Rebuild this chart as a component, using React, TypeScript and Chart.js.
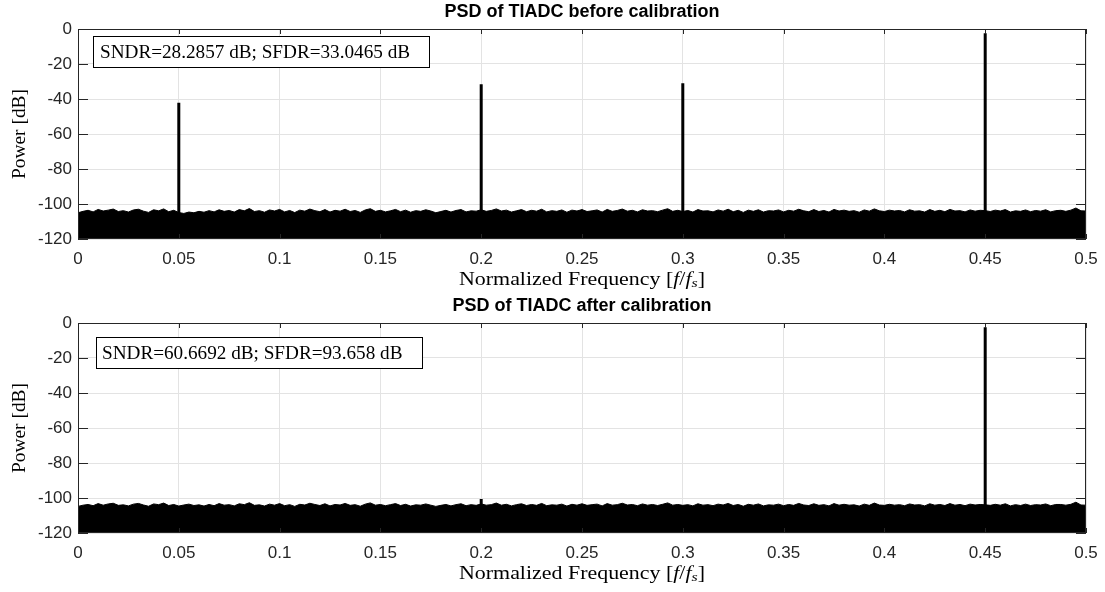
import React, { useEffect, useRef } from "react";
import { Chart, registerables } from "chart.js";

Chart.register(...registerables);

// ---------------- data ----------------
const FREQ_STEP = 0.0025; // sampling step of the noise-floor envelope (normalized frequency)

// Noise-floor upper envelope (dB), 0 .. 0.5
const noiseBefore = [
  -105.0, -104.2, -103.6, -104.5, -103.1, -104.0, -103.5, -102.9, -104.3, -103.8, -104.6, -103.4, -103.0, -104.1, -104.8, -103.3, -103.9, -102.8, -104.4, -103.6,
  -104.9, -105.4, -104.6, -105.0, -104.2, -104.7, -103.8, -104.5, -103.3, -104.2, -103.7, -104.6, -103.2, -103.9, -102.6, -104.3, -103.8, -104.7, -103.4, -104.0,
  -103.1, -104.5, -103.7, -104.9, -103.5, -104.1, -102.9, -103.8, -104.4, -103.2, -104.6, -103.6, -104.1, -103.0, -104.3, -103.7, -104.8, -103.4, -102.7, -104.2,
  -103.6, -104.5, -103.9, -103.1, -104.4, -103.5, -104.7, -103.8, -104.2, -103.3, -104.0, -105.0, -104.3, -103.6, -104.6, -103.7, -103.2, -104.5, -103.9, -104.1,
  -103.3, -104.2, -103.7, -102.8, -104.0, -103.5, -104.6, -103.9, -103.2, -104.4, -103.6, -104.1, -103.0, -104.5, -103.8, -104.2, -103.4, -104.7, -103.5, -104.0,
  -103.2, -104.3, -103.9, -103.4, -104.6, -103.1, -104.2, -103.7, -102.9, -104.1, -103.6, -104.5, -103.3, -104.0, -103.8, -104.4, -103.5, -102.7, -104.2, -103.6,
  -104.3, -103.7, -104.6, -103.2, -104.0, -103.9, -104.5, -103.4, -104.1, -103.0, -104.4, -103.6, -104.8, -103.5, -104.2, -103.3, -104.6, -103.8, -104.0, -103.4,
  -104.5, -103.6, -104.1, -103.0, -103.9, -104.4, -103.2, -104.3, -103.7, -104.6, -103.1, -104.0, -103.5, -104.2, -103.8, -104.7, -103.4, -104.1, -102.8, -103.9,
  -104.3, -103.5, -104.0, -103.7, -104.5, -103.3, -104.1, -103.9, -104.6, -103.2, -104.2, -103.6, -104.4, -103.1, -104.0, -103.8, -104.5, -103.4, -104.1, -103.6,
  -103.8, -104.3, -103.5, -104.0, -103.2, -104.6, -103.9, -104.2, -103.4, -104.4, -103.7, -104.1, -103.3, -104.5, -103.8, -103.6, -104.2, -103.5, -102.3, -103.9,
  -104.0,
];

const noiseAfter = [
  -104.8, -104.1, -103.7, -104.4, -103.2, -104.1, -103.4, -103.0, -104.2, -103.9, -104.5, -103.5, -103.1, -104.0, -104.7, -103.4, -103.8, -102.9, -104.3, -103.7,
  -104.6, -104.0, -103.5, -104.3, -103.9, -104.6, -103.7, -104.4, -103.2, -104.1, -103.8, -104.5, -103.3, -103.8, -102.7, -104.2, -103.9, -104.6, -103.5, -104.1,
  -103.2, -104.4, -103.8, -104.8, -103.6, -104.0, -103.0, -103.7, -104.3, -103.3, -104.5, -103.7, -104.0, -103.1, -104.2, -103.8, -104.7, -103.5, -102.8, -104.1,
  -103.7, -104.4, -103.8, -103.2, -104.3, -103.6, -104.6, -103.9, -104.1, -103.4, -104.1, -104.8, -104.2, -103.7, -104.5, -103.8, -103.3, -104.4, -103.8, -104.2,
  -103.4, -104.1, -103.8, -102.9, -104.1, -103.6, -104.5, -103.8, -103.3, -104.3, -103.7, -104.2, -103.1, -104.4, -103.9, -104.1, -103.5, -104.6, -103.6, -104.1,
  -103.3, -104.2, -103.8, -103.5, -104.5, -103.2, -104.1, -103.8, -103.0, -104.0, -103.7, -104.4, -103.4, -104.1, -103.7, -104.3, -103.6, -102.8, -104.1, -103.7,
  -104.2, -103.8, -104.5, -103.3, -104.1, -103.8, -104.4, -103.5, -104.0, -103.1, -104.3, -103.7, -104.7, -103.6, -104.1, -103.4, -104.5, -103.9, -104.1, -103.5,
  -104.4, -103.7, -104.2, -103.1, -104.0, -104.3, -103.3, -104.2, -103.8, -104.5, -103.2, -104.1, -103.6, -104.1, -103.9, -104.6, -103.5, -104.2, -102.9, -104.0,
  -104.2, -103.6, -104.1, -103.8, -104.4, -103.4, -104.0, -103.8, -104.5, -103.3, -104.1, -103.7, -104.3, -103.2, -104.1, -103.7, -104.4, -103.5, -104.0, -103.7,
  -103.9, -104.2, -103.6, -104.1, -103.3, -104.5, -103.8, -104.3, -103.5, -104.3, -103.8, -104.0, -103.4, -104.4, -103.7, -103.7, -104.1, -103.6, -102.4, -104.0,
  -104.1,
];

// Spectral lines (tones / spurs)
const spikeFreqsBefore = [0.05, 0.2, 0.3, 0.45];
const spikeLevelsBefore = [-42.1, -31.5, -31.0, -2.4];
const spikeFreqsAfter = [0.2, 0.45];
const spikeLevelsAfter = [-100.6, -2.4];

const xTicks = [0, 0.05, 0.1, 0.15, 0.2, 0.25, 0.3, 0.35, 0.4, 0.45, 0.5];
const yTicks = [-120, -100, -80, -60, -40, -20, 0];

const titleBefore = "PSD of TIADC before calibration";
const titleAfter = "PSD of TIADC after calibration";
const noteBefore = "SNDR=28.2857 dB; SFDR=33.0465 dB";
const noteAfter = "SNDR=60.6692 dB; SFDR=93.658 dB";
const yTitle = "Power [dB]";

// ---------------- styling ----------------
const SANS = '"Liberation Sans", Arial, Helvetica, sans-serif';
const SERIF = '"Liberation Serif", "Times New Roman", serif';
const AXIS = "#262626";
const GRID = "#e3e3e3";
const W = 1105;
const H = 294;

type Panel = {
  title: string;
  note: string;
  noise: number[];
  spikeFreqs: number[];
  spikeLevels: number[];
  box: { x: number; y: number; w: number; h: number; pad: number };
};

const panels: Panel[] = [
  {
    title: titleBefore,
    note: noteBefore,
    noise: noiseBefore,
    spikeFreqs: spikeFreqsBefore,
    spikeLevels: spikeLevelsBefore,
    box: { x: 93, y: 36, w: 336, h: 31, pad: 7 },
  },
  {
    title: titleAfter,
    note: noteAfter,
    noise: noiseAfter,
    spikeFreqs: spikeFreqsAfter,
    spikeLevels: spikeLevelsAfter,
    box: { x: 96, y: 43, w: 326, h: 31, pad: 6 },
  },
];

function fitText(ctx: any, text: string, x: number, y: number, target: number) {
  const w = ctx.measureText(text).width;
  ctx.save();
  ctx.translate(x, y);
  ctx.scale(target / w, 1);
  ctx.fillText(text, 0, 0);
  ctx.restore();
}

const decorPlugin = {
  id: "decor",
  afterDraw(chart: any, _args: any, opts: any) {
    const { ctx, chartArea: a } = chart;
    const xs = chart.scales.x;
    const ys = chart.scales.y;
    ctx.save();

    // axes box
    ctx.strokeStyle = AXIS;
    ctx.lineWidth = 1;
    ctx.strokeRect(a.left + 0.5, a.top + 0.5, a.right - a.left - 1, a.bottom - a.top - 1);

    // inward ticks
    ctx.beginPath();
    xTicks.forEach((v) => {
      const px = Math.round(xs.getPixelForValue(v)) + 0.5;
      ctx.moveTo(px, a.bottom);
      ctx.lineTo(px, a.bottom - 5);
      ctx.moveTo(px, a.top);
      ctx.lineTo(px, a.top + 5);
    });
    yTicks.forEach((v) => {
      const py = Math.round(ys.getPixelForValue(v)) + 0.5;
      ctx.moveTo(a.left, py);
      ctx.lineTo(a.left + 10, py);
      ctx.moveTo(a.right, py);
      ctx.lineTo(a.right - 10, py);
    });
    ctx.stroke();

    // title
    ctx.fillStyle = "#000";
    ctx.font = `bold 18px ${SANS}`;
    ctx.textAlign = "center";
    ctx.textBaseline = "middle";
    ctx.fillText(opts.title, (a.left + a.right) / 2, 12);

    // annotation box
    const b = opts.box;
    ctx.fillStyle = "#fff";
    ctx.fillRect(b.x, b.y, b.w, b.h);
    ctx.strokeStyle = "#000";
    ctx.strokeRect(b.x + 0.5, b.y + 0.5, b.w, b.h);
    ctx.fillStyle = "#000";
    ctx.font = `19.2px ${SERIF}`;
    ctx.textAlign = "left";
    ctx.textBaseline = "middle";
    ctx.fillText(opts.note, b.x + b.pad, b.y + b.h / 2 + 1);

    // y title (stretched to the width of the LaTeX rendering)
    ctx.save();
    ctx.translate(20, (a.top + a.bottom) / 2);
    ctx.rotate(-Math.PI / 2);
    ctx.textAlign = "center";
    ctx.font = `18px ${SERIF}`;
    fitText(ctx, yTitle, 0, 0, 90);
    ctx.restore();

    // x title with math part
    const parts = [
      { t: "Normalized Frequency [", f: `18px ${SERIF}`, dy: 0 },
      { t: "f", f: `italic 18px ${SERIF}`, dy: 0 },
      { t: "/", f: `18px ${SERIF}`, dy: 0 },
      { t: "f", f: `italic 18px ${SERIF}`, dy: 0 },
      { t: "s", f: `italic 13px ${SERIF}`, dy: 4 },
      { t: "]", f: `18px ${SERIF}`, dy: 0 },
    ];
    let total = 0;
    const widths = parts.map((p) => {
      ctx.font = p.f;
      const w = ctx.measureText(p.t).width;
      total += w;
      return w;
    });
    const target = 246;
    const sx = target / total;
    const y = a.bottom + 41;
    ctx.save();
    ctx.translate((a.left + a.right) / 2 - target / 2, y);
    ctx.scale(sx, 1);
    let x = 0;
    ctx.textAlign = "left";
    parts.forEach((p, i) => {
      ctx.font = p.f;
      ctx.fillText(p.t, x, p.dy);
      x += widths[i];
    });
    ctx.restore();

    ctx.restore();
  },
};

function buildConfig(p: Panel): any {
  const noiseData = p.noise.map((v, i) => ({ x: +(i * FREQ_STEP).toFixed(5), y: v }));
  const spikeData: any[] = [];
  p.spikeFreqs.forEach((f, i) => {
    spikeData.push({ x: f, y: -120 });
    spikeData.push({ x: f, y: p.spikeLevels[i] });
    spikeData.push({ x: f, y: null });
  });
  return {
    type: "line",
    data: {
      datasets: [
        {
          label: "noise",
          data: noiseData,
          borderColor: "#000",
          backgroundColor: "#000",
          borderWidth: 1,
          pointRadius: 0,
          fill: "start",
          tension: 0,
        },
        {
          label: "tones",
          data: spikeData,
          borderColor: "#000",
          borderWidth: 3,
          pointRadius: 0,
          fill: false,
          spanGaps: false,
        },
      ],
    },
    options: {
      responsive: false,
      animation: false,
      devicePixelRatio: 1,
      layout: { padding: { left: 0, right: 19, top: 29, bottom: 0 } },
      plugins: {
        legend: { display: false },
        tooltip: { enabled: false },
        title: { display: false },
        decor: { title: p.title, note: p.note, box: p.box },
      },
      scales: {
        x: {
          type: "linear",
          min: 0,
          max: 0.5,
          afterBuildTicks: (s: any) => {
            s.ticks = xTicks.map((v) => ({ value: v }));
          },
          afterFit: (s: any) => {
            s.height = 55;
            s.paddingLeft = 0;
            s.paddingRight = 0;
          },
          ticks: {
            callback: (v: any) => String(+(+v).toFixed(2)),
            font: { family: SANS, size: 17 },
            color: AXIS,
            padding: 10,
            maxRotation: 0,
            autoSkip: false,
          },
          grid: { color: GRID, drawTicks: false, lineWidth: 1 },
          border: { display: false },
        },
        y: {
          type: "linear",
          min: -120,
          max: 0,
          afterBuildTicks: (s: any) => {
            s.ticks = yTicks.map((v) => ({ value: v }));
          },
          afterFit: (s: any) => {
            s.width = 78;
            s.paddingTop = 0;
            s.paddingBottom = 0;
          },
          ticks: {
            callback: (v: any) => String(v),
            font: { family: SANS, size: 17 },
            color: AXIS,
            padding: 6,
            autoSkip: false,
          },
          grid: { color: GRID, drawTicks: false, lineWidth: 1 },
          border: { display: false },
        },
      },
    },
    plugins: [decorPlugin],
  };
}

function PanelChart({ panel, top }: { panel: Panel; top: number }) {
  const ref = useRef<HTMLCanvasElement>(null);
  useEffect(() => {
    const chart = new Chart(ref.current as HTMLCanvasElement, buildConfig(panel));
    return () => chart.destroy();
  }, [panel]);
  return (
    <canvas
      ref={ref}
      width={W}
      height={H}
      style={{ position: "absolute", left: 0, top, width: W, height: H }}
    />
  );
}

export default function App() {
  return (
    <div
      style={{
        position: "fixed",
        left: 0,
        top: 0,
        width: W,
        height: 592,
        background: "#fff",
        overflow: "hidden",
      }}
    >
      <PanelChart panel={panels[0]} top={0} />
      <PanelChart panel={panels[1]} top={294} />
    </div>
  );
}
